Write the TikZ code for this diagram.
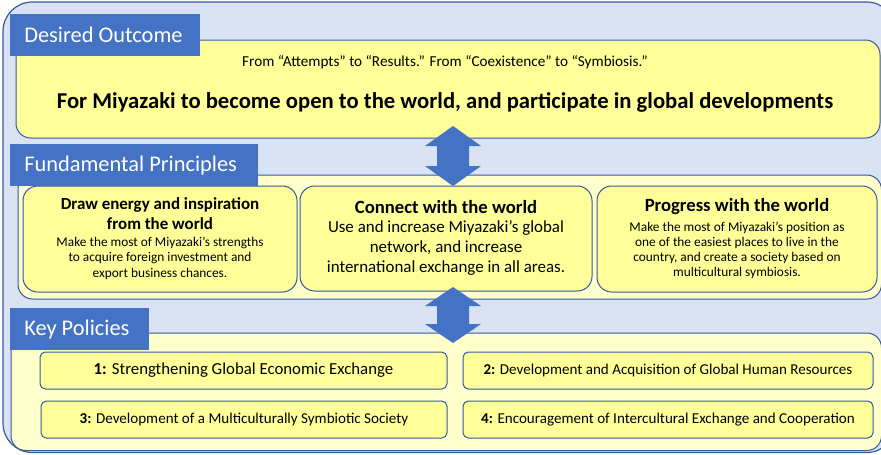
\documentclass[tikz,border=0pt]{standalone}
\usepackage{fontspec}
\setmainfont{Carlito}
\usepackage{tikz}

\definecolor{lineblue}{RGB}{52,90,160}
\definecolor{paleblue}{RGB}{218,227,243}
\definecolor{tagblue}{RGB}{68,114,196}
\definecolor{lemon}{RGB}{255,255,153}
\definecolor{creamy}{RGB}{255,255,204}

\tikzset{
  framebox/.style={draw=lineblue, fill=paleblue, line width=0.9pt, rounded corners=22pt},
  panel/.style={draw=lineblue, fill=creamy, line width=0.75pt, rounded corners=11pt},
  cardbox/.style={draw=lineblue, fill=lemon, line width=0.75pt, rounded corners=11pt},
  policybox/.style={draw=lineblue, fill=lemon, line width=0.75pt, rounded corners=4pt},
  tag/.style={fill=tagblue, text=white, anchor=north west, inner xsep=10.5pt, inner ysep=0pt,
    minimum height=31.5pt, text width=#1, align=flush left, font=\fontsize{16.8}{19}\selectfont},
  twoway/.style={fill=tagblue, draw=none},
  cardtitle/.style={align=center, inner sep=0pt, font=\fontsize{14}{15}\selectfont\bfseries},
  cardtext/.style={align=center, inner sep=0pt, font=\fontsize{10}{11.6}\selectfont},
  policytext/.style={inner sep=0pt, font=\fontsize{11.3}{13}\selectfont}
}

\begin{document}
\begin{tikzpicture}[x=0.75pt,y=0.75pt,yscale=-1,xscale=1]
    \clip (0,0) rectangle (881,454);

    %Shape: Rounded Rectangle (frame)
    \draw [framebox] (3,2) rectangle (896,452.5) ;
    %Shape: Rounded Rectangle (outcome)
    \draw [cardbox] (16,40) rectangle (880,138) ;
    %Shape: Rounded Rectangle (principles panel)
    \draw [panel] (18,175) rectangle (881.5,299) ;
    %Shape: Rounded Rectangle (principle cards)
    \draw [cardbox] (23,186) rectangle (297,292) ;
    \draw [cardbox] (300,186) rectangle (592,291) ;
    \draw [cardbox] (597,186) rectangle (877,292) ;
    %Shape: Rounded Rectangle (policies panel)
    \draw [panel] (11,333) rectangle (881.5,450.5) ;
    %Shape: Rounded Rectangle (policy cards)
    \draw [policybox] (40,352) rectangle (447,389) ;
    \draw [policybox] (463,352) rectangle (873,389) ;
    \draw [policybox] (41,401) rectangle (447,438) ;
    \draw [policybox] (463,401) rectangle (873,438) ;

    %Shape: Up-Down Arrows
    \foreach \cy/\hl/\hb in {156/30/10, 315/28/9}
      \fill [twoway] (453,{\cy-\hl}) -- (481,{\cy-\hb}) -- (469,{\cy-\hb}) -- (469,{\cy+\hb})
        -- (481,{\cy+\hb}) -- (453,{\cy+\hl}) -- (425,{\cy+\hb}) -- (437,{\cy+\hb})
        -- (437,{\cy-\hb}) -- (425,{\cy-\hb}) -- cycle ;

    % Text Node
    \node [tag=121.5pt] (tagoutcome) at (10,14) {Desired Outcome};
    % Text Node
    \node [tag=165pt] (tagprinciples) at (10,144) {Fundamental Principles};
    % Text Node
    \node [tag=83.25pt] (tagpolicies) at (10,308) {Key Policies};

    % Text Node
    \node [inner sep=0pt, font=\fontsize{11.4}{13}\selectfont] (motto) at (445,62)
      {From “Attempts” to “Results.” From “Coexistence” to “Symbiosis.”};
    % Text Node
    \node [inner sep=0pt, font=\fontsize{17}{20}\selectfont\bfseries] (goal) at (445,102)
      {For Miyazaki to become open to the world, and participate in global developments};

    % Text Node
    \node [cardtitle, font=\fontsize{12.7}{15}\selectfont\bfseries] (drawtitle) at (160,214)
      {Draw energy and inspiration\\from the world};
    \node [cardtext] (drawtext) at (160,258)
      {Make the most of Miyazaki’s strengths\\to acquire foreign investment and\\export business chances.};
    % Text Node
    \node [cardtitle] (connecttitle) at (446,207) {Connect with the world};
    \node [cardtext, font=\fontsize{12.7}{15}\selectfont] (connecttext) at (446,248)
      {Use and increase Miyazaki’s global\\network, and increase\\international exchange in all areas.};
    % Text Node
    \node [cardtitle] (progresstitle) at (737,207) {Progress with the world};
    \node [cardtext, font=\fontsize{10}{11.25}\selectfont] (progresstext) at (737,250.5)
      {Make the most of Miyazaki’s position as\\one of the easiest places to live in the\\country, and create a society based on\\multicultural symbiosis.};

    % Text Node
    \node [policytext, font=\fontsize{12.6}{14}\selectfont] (policyone) at (243.5,370.5)
      {\textbf{1:} Strengthening Global Economic Exchange};
    \node [policytext] (policytwo) at (668,370.5)
      {\textbf{2:} Development and Acquisition of Global Human Resources};
    \node [policytext] (policythree) at (244,419.5)
      {\textbf{3:} Development of a Multiculturally Symbiotic Society};
    \node [policytext] (policyfour) at (668,419.5)
      {\textbf{4:} Encouragement of Intercultural Exchange and Cooperation};

\end{tikzpicture}
\end{document}
